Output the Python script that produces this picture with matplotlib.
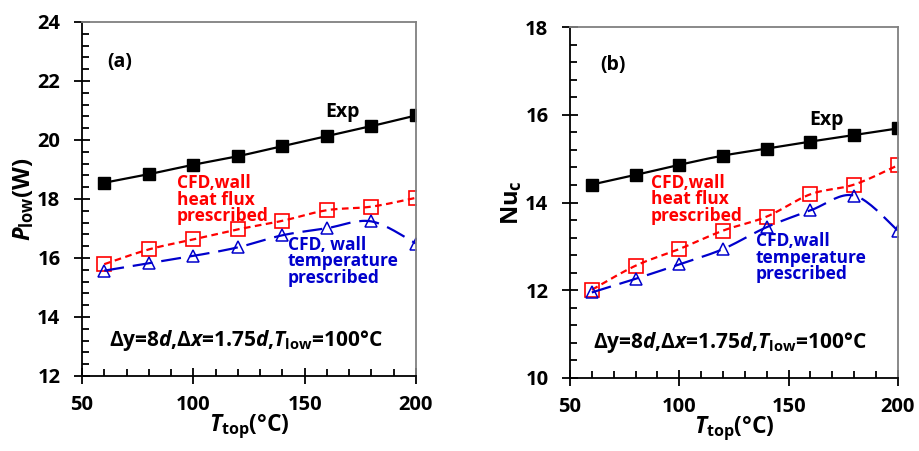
import numpy as np
import matplotlib
matplotlib.use('Agg')
import matplotlib.pyplot as plt
from matplotlib.ticker import MultipleLocator

plt.rcParams['font.family'] = ['Open Sans', 'DejaVu Sans']
plt.rcParams['font.weight'] = 'bold'
plt.rcParams['axes.labelweight'] = 'bold'
plt.rcParams['mathtext.fontset'] = 'custom'
plt.rcParams['mathtext.rm'] = 'Open Sans:bold'
plt.rcParams['mathtext.it'] = 'Open Sans:bold:italic'
plt.rcParams['mathtext.bf'] = 'Open Sans:bold'

# datos
t_top = [60, 80, 100, 120, 140, 160, 180, 200]

p_exp = [18.55, 18.84, 19.16, 19.45, 19.79, 20.13, 20.47, 20.83]
p_flux = [15.79, 16.29, 16.63, 16.97, 17.26, 17.62, 17.74, 18.04]
p_temp = [15.57, 15.82, 16.07, 16.36, 16.77, 17.01, 17.24, 16.49]

nu_exp = [14.41, 14.63, 14.86, 15.07, 15.23, 15.39, 15.54, 15.69]
nu_flux = [12.01, 12.56, 12.94, 13.36, 13.68, 14.19, 14.41, 14.85]
nu_temp = [11.95, 12.26, 12.59, 12.94, 13.44, 13.82, 14.16, 13.36]

RED = '#ff0000'
BLUE = '#0000cc'


# curva suavizada tipo Excel (Catmull-Rom) a traves de los puntos
def smooth(x, y, n=20):
    p = np.column_stack([x, y]).astype(float)
    p = np.vstack([p[0], p, p[-1]])
    out = []
    s = np.linspace(0, 1, n, endpoint=False)[:, None]
    for i in range(1, len(p) - 2):
        p0, p1, p2, p3 = p[i - 1], p[i], p[i + 1], p[i + 2]
        c = 0.5 * ((2 * p1) + (-p0 + p2) * s + (2 * p0 - 5 * p1 + 4 * p2 - p3) * s ** 2
                   + (-p0 + 3 * p1 - 3 * p2 + p3) * s ** 3)
        out.append(c)
    out.append(p[-2][None, :])
    c = np.vstack(out)
    return c[:, 0], c[:, 1]


def panel(ax, exp, flux, temp, ylim, ylabel, tag, tagpos, exppos, fluxpos, temppos, condpos,
          temptext):
    sx, sy = smooth(t_top, exp)
    ax.plot(sx, sy, color='black', lw=1.6)
    ax.plot(t_top, exp, ls='none', marker='s', ms=9, color='black')
    sx, sy = smooth(t_top, flux)
    ax.plot(sx, sy, color=RED, lw=1.6, dashes=(3, 2))
    ax.plot(t_top, flux, ls='none', marker='s', ms=9.5, mfc='none', mec=RED, mew=1.2)
    sx, sy = smooth(t_top, temp)
    ax.plot(sx, sy, color=BLUE, lw=1.6, dashes=(9, 4))
    ax.plot(t_top, temp, ls='none', marker='^', ms=8.5, mfc='none', mec=BLUE, mew=1.1)

    ax.set_xlim(50, 200)
    ax.set_ylim(*ylim)
    ax.xaxis.set_major_locator(MultipleLocator(50))
    ax.xaxis.set_minor_locator(MultipleLocator(10))
    ax.yaxis.set_major_locator(MultipleLocator(2))
    ax.yaxis.set_minor_locator(MultipleLocator(0.4))
    ax.tick_params(which='major', direction='inout', length=11, width=1.3, labelsize=14.5,
                   top=False, right=False)
    ax.tick_params(which='minor', direction='in', length=5, width=1.3, top=False, right=False)
    ax.tick_params(axis='x', which='major', pad=8)
    ax.tick_params(axis='y', which='major', pad=10)
    ax.spines['left'].set_linewidth(1.3)
    ax.spines['bottom'].set_linewidth(1.3)
    for s in ['top', 'right']:
        ax.spines[s].set_color('#808080')
        ax.spines[s].set_linewidth(1.3)

    ax.set_xlabel(r'$\mathit{T}_{\mathrm{top}}$(°C)', fontsize=16.5, labelpad=-2)
    ax.set_ylabel(ylabel, fontsize=17, labelpad=1)

    ax.text(*tagpos, tag, fontsize=14, ha='center', va='center')
    ax.text(*exppos, 'Exp', fontsize=14, ha='center', va='center')
    ax.text(*fluxpos, 'CFD,wall\nheat flux\nprescribed', fontsize=12.5, color=RED,
            ha='left', va='top', linespacing=0.9)
    ax.text(*temppos, temptext, fontsize=12.5, color=BLUE,
            ha='left', va='top', linespacing=0.9)
    ax.text(*condpos, r'Δy=8$\mathit{d}$,Δ$\mathit{x}$=1.75$\mathit{d}$,$\mathit{T}_{\mathrm{low}}$=100°C',
            fontsize=15, ha='left', va='center')


fig = plt.figure(figsize=(9.19, 4.51), dpi=100)
ax1 = fig.add_axes([0.0892, 0.1663, 0.3634, 0.785])
ax2 = fig.add_axes([0.6202, 0.1619, 0.3569, 0.778])

panel(ax1, p_exp, p_flux, p_temp, (12, 24), r'$\mathit{P}_{\mathrm{low}}$(W)', '(a)',
      (67, 22.64), (167, 20.95), (92.7, 18.85), (142.5, 16.75), (62, 13.22),
      'CFD, wall\ntemperature\nprescribed')
panel(ax2, nu_exp, nu_flux, nu_temp, (10, 18), r'Nu$_{\mathrm{c}}$', '(b)',
      (69.7, 17.13), (167.5, 15.88), (87, 14.66), (135, 13.33), (60.5, 10.82),
      'CFD,wall\ntemperature\nprescribed')

# etiquetas de los ejes en negrita
fig.canvas.draw()
for ax in (ax1, ax2):
    plt.setp(ax.get_xticklabels() + ax.get_yticklabels(), fontweight='bold')

fig.savefig('out.png', dpi=100)
